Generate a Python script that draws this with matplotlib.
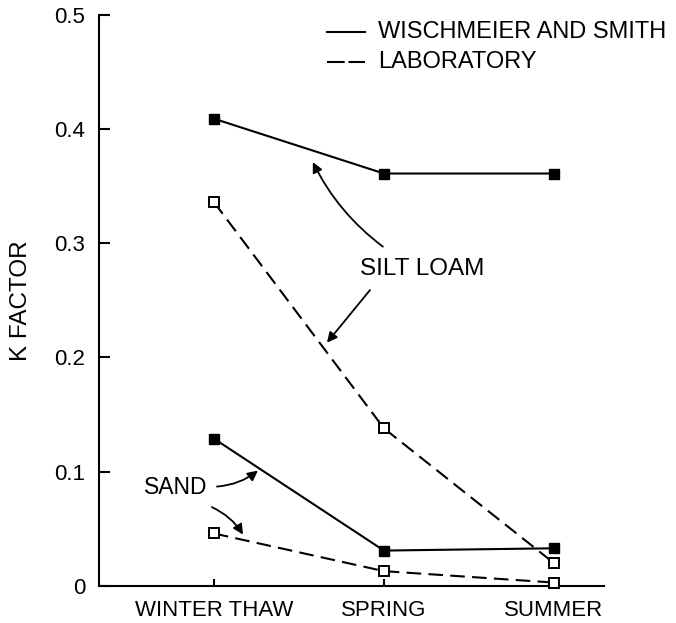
import matplotlib
matplotlib.use("Agg")
import matplotlib.pyplot as plt

plt.rcParams['font.family'] = ['Liberation Sans', 'DejaVu Sans']

seasons = ["WINTER THAW", "SPRING", "SUMMER"]
silt_ws = [0.409, 0.361, 0.361]
silt_lab = [0.336, 0.138, 0.020]
sand_ws = [0.129, 0.031, 0.033]
sand_lab = [0.046, 0.013, 0.003]
yticks = [0, 0.1, 0.2, 0.3, 0.4, 0.5]
yticklabels = ["0", "0.1", "0.2", "0.3", "0.4", "0.5"]

fig = plt.figure(figsize=(6.76, 6.23), dpi=100)
ax = fig.add_axes([0.1464, 0.0594, 0.747, 0.917])

x = [0, 1, 2]
lw = 1.5
dash = (0, (7, 3.5))
for ws, lab in [(silt_ws, silt_lab), (sand_ws, sand_lab)]:
    ax.plot(x, ws, color='black', lw=lw, marker='s', ms=7.5, mfc='black', mec='black',
            clip_on=False, zorder=3)
    ax.plot(x, lab, color='black', lw=lw, linestyle=dash, marker='s', ms=7, mfc='white',
            mec='black', mew=1.4, clip_on=False, zorder=4)

ax.set_xlim(-0.676, 2.294)
ax.set_ylim(0, 0.5)
ax.set_xticks(x)
ax.set_xticklabels(seasons, fontsize=16)
ax.set_yticks(yticks)
ax.set_yticklabels(yticklabels, fontsize=16)
ax.tick_params(axis='y', direction='in', length=8, width=1.5, pad=10)
ax.tick_params(axis='x', direction='in', length=5, width=1.5, pad=10)
for s in ['top', 'right']:
    ax.spines[s].set_visible(False)
for s in ['left', 'bottom']:
    ax.spines[s].set_linewidth(1.5)
ax.set_ylabel("K FACTOR", fontsize=17.5, labelpad=16)

# legend
ax.plot([0.665, 0.888], [0.485, 0.485], color='black', lw=lw, clip_on=False)
ax.plot([0.665, 0.888], [0.459, 0.459], color='black', lw=lw, linestyle=(0, (8.5, 1.8)), clip_on=False)
ax.text(0.965, 0.485, "WISCHMEIER AND SMITH", fontsize=17, va='center', ha='left')
ax.text(0.965, 0.459, "LABORATORY", fontsize=17, va='center', ha='left')

# annotations
ax.text(1.224, 0.277, "SILT LOAM", fontsize=17.5, ha='center', va='center')
ap = dict(arrowstyle='-|>', color='black', lw=1.3, mutation_scale=15, shrinkA=0, shrinkB=0)
ax.annotate("", xy=(0.582, 0.371), xytext=(0.994, 0.297),
            arrowprops=dict(ap, connectionstyle='arc3,rad=-0.12'))
ax.annotate("", xy=(0.665, 0.213), xytext=(0.918, 0.259),
            arrowprops=dict(ap, connectionstyle='arc3,rad=0'))
ax.text(-0.035, 0.086, "SAND", fontsize=16.5, ha='right', va='center')
ax.annotate("", xy=(0.259, 0.101), xytext=(0.018, 0.087),
            arrowprops=dict(ap, connectionstyle='arc3,rad=0.15'))
ax.annotate("", xy=(0.171, 0.045), xytext=(-0.012, 0.069),
            arrowprops=dict(ap, connectionstyle='arc3,rad=-0.15'))

fig.savefig("out.png", dpi=100)
